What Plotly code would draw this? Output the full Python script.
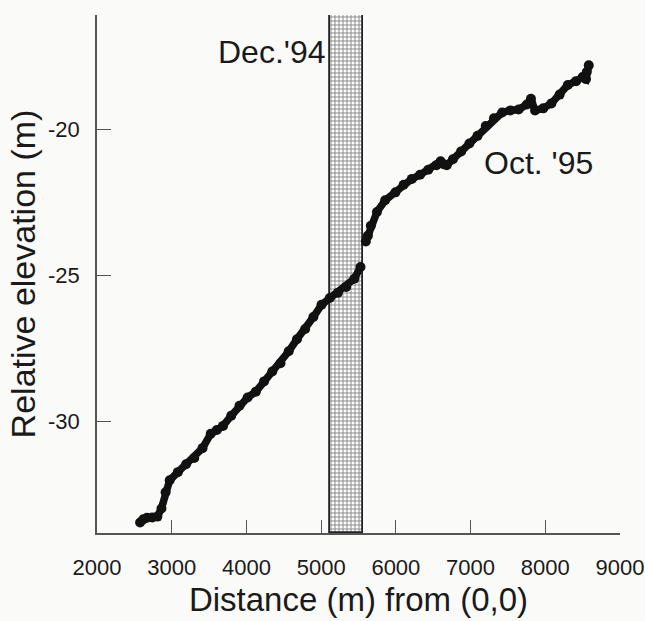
import plotly.graph_objects as go

# Dec. '94 survey profile (distance m, relative elevation m)
dec94_x = [2577, 2620, 2670, 2740, 2808, 2863, 2918, 2973, 3082, 3192, 3302, 3412,
           3522, 3604, 3687, 3797, 3907, 4016, 4126, 4236, 4346, 4456, 4566, 4676,
           4786, 4896, 5005, 5115, 5225, 5335, 5445, 5527]
dec94_y = [-33.44, -33.33, -33.28, -33.27, -33.24, -32.96, -32.41, -32.00, -31.72, -31.45, -31.24, -30.90,
           -30.41, -30.28, -30.14, -29.79, -29.45, -29.17, -28.97, -28.62, -28.28, -28.00, -27.59, -27.18,
           -26.83, -26.42, -26.00, -25.77, -25.59, -25.39, -25.11, -24.71]

# Oct. '95 survey profile
oct95_x = [5598, 5626, 5665, 5747, 5857, 5995, 6104, 6214, 6324, 6434, 6544, 6599,
           6640, 6681, 6764, 6874, 6984, 7093, 7203, 7313, 7423, 7533, 7643, 7753,
           7808, 7863, 7973, 8082, 8192, 8302, 8412, 8500, 8545, 8555, 8582]
oct95_y = [-23.84, -23.64, -23.30, -22.83, -22.43, -22.16, -21.90, -21.70, -21.56, -21.39, -21.23, -21.10,
           -21.20, -21.23, -21.03, -20.76, -20.49, -20.23, -19.89, -19.63, -19.43, -19.36, -19.33, -19.16,
           -18.96, -19.36, -19.29, -19.12, -18.82, -18.49, -18.36, -18.22, -18.29, -18.05, -17.82]

# hatched band between the two surveys
band_x0 = 5124
band_x1 = 5565

x_range = [2000, 9000]
y_range = [-33.8, -16.1]
x_ticks = [2000, 3000, 4000, 5000, 6000, 7000, 8000, 9000]
x_ticktext = ["2000", "3000", "4000", "5000", "6000", "7000", "8000", "9000"]
y_ticks = [-30, -25, -20]
y_ticktext = ["-30", "-25", "-20"]

labels = ["Dec.'94", "Oct. '95"]
label_x = [5090, 7150]
label_y = [-17.37, -21.15]

FONT = "Liberation Sans, Arial, Helvetica, sans-serif"
INK = "#1a1a1a"

fig = go.Figure()

fig.add_trace(go.Bar(
    x=[(band_x0 + band_x1) / 2],
    y=[y_range[1] - y_range[0]],
    base=[y_range[0]],
    width=[band_x1 - band_x0],
    marker=dict(
        color="white",
        line=dict(color="#222222", width=1.8),
        pattern=dict(shape="+", size=4.0, solidity=0.42, fgcolor="#111111", bgcolor="white"),
    ),
    hoverinfo="skip",
    showlegend=False,
))

for xs, ys in [(dec94_x, dec94_y), (oct95_x, oct95_y)]:
    fig.add_trace(go.Scatter(
        x=xs, y=ys, mode="lines+markers",
        line=dict(color="#111111", width=7.5),
        marker=dict(color="#111111", size=10),
        showlegend=False,
    ))

fig.add_annotation(x=label_x[0], y=label_y[0], text=labels[0], showarrow=False,
                   xanchor="right", yanchor="middle",
                   font=dict(family=FONT, size=32, color=INK))
fig.add_annotation(x=label_x[1], y=label_y[1], text=labels[1], showarrow=False,
                   xanchor="left", yanchor="middle",
                   font=dict(family=FONT, size=32, color=INK))

fig.update_layout(
    width=645, height=621,
    margin=dict(l=97, r=25, t=15, b=88, autoexpand=False),
    paper_bgcolor="#fafbf9",
    plot_bgcolor="#fafbf9",
    font=dict(family=FONT, color=INK),
    bargap=0,
)

fig.update_xaxes(
    range=x_range, tickvals=x_ticks, ticktext=x_ticktext, automargin=False,
    showgrid=False, zeroline=False,
    showline=True, linecolor="#555555", linewidth=1.5,
    ticks="inside", ticklen=13, tickwidth=1.2, tickcolor="#555555",
    ticklabelstandoff=14,
    tickfont=dict(family=FONT, size=22, color=INK),
    title=dict(text="Distance (m) from (0,0)", font=dict(family=FONT, size=33, color=INK), standoff=9),
)
fig.update_yaxes(
    range=y_range, tickvals=y_ticks, ticktext=y_ticktext, automargin=False,
    showgrid=False, zeroline=False,
    showline=True, linecolor="#555555", linewidth=1.5,
    ticks="inside", ticklen=14, tickwidth=1.2, tickcolor="#555555",
    ticklabelstandoff=11,
    tickfont=dict(family=FONT, size=22, color=INK),
    title=dict(text="Relative elevation (m)", font=dict(family=FONT, size=34, color=INK), standoff=2),
)

fig.write_html(
    "out.html",
    config={"displayModeBar": False},
    post_script="document.body.style.margin='0';document.body.style.overflow='hidden';"
                "document.documentElement.style.overflow='hidden';",
)
